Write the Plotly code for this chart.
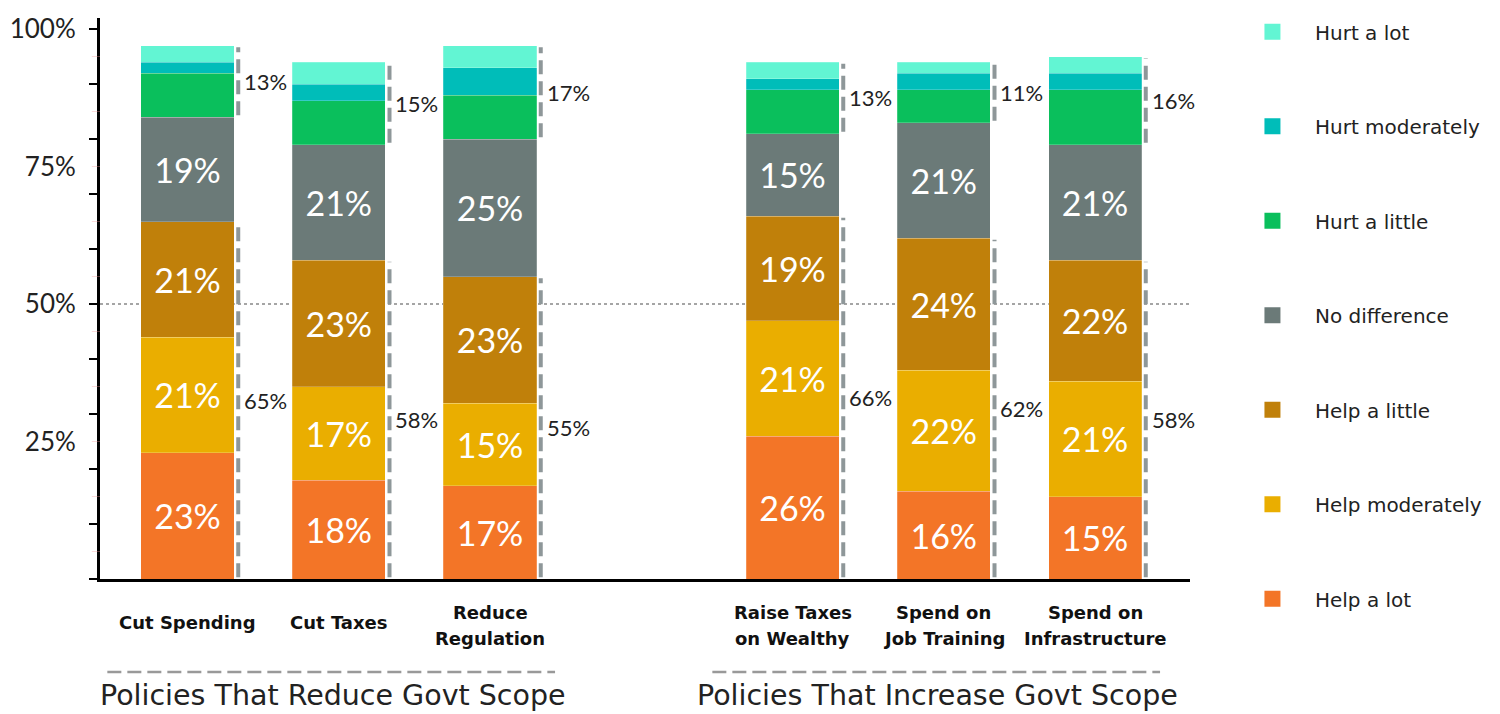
import plotly.graph_objects as go

# ---------------- data ----------------
group_names = ["Policies That Reduce Govt Scope", "Policies That Increase Govt Scope"]
group_members = [
    ["Cut Spending", "Cut Taxes", "Reduce<br>Regulation"],
    ["Raise Taxes<br>on Wealthy", "Spend on<br>Job Training", "Spend on<br>Infrastructure"],
]
series_names = ["Help a lot", "Help moderately", "Help a little", "No difference",
                "Hurt a little", "Hurt moderately", "Hurt a lot"]
help_lot = [23, 18, 17, 26, 16, 15]
help_moderately = [21, 17, 15, 21, 22, 21]
help_little = [21, 23, 23, 19, 24, 22]
no_difference = [19, 21, 25, 15, 21, 21]
hurt_little = [8, 8, 8, 8, 6, 10]
hurt_moderately = [2, 3, 5, 2, 3, 3]
hurt_lot = [3, 4, 4, 3, 2, 3]
y_tick_values = [25, 50, 75, 100]
y_tick_labels = ["25%", "50%", "75%", "100%"]

# ---------------- style ----------------
colors = ["#F37527", "#EAAE00", "#C0800A", "#6B7A78", "#0ABF5C", "#00BDB9", "#62F5D3"]
NUM_FONT = "Lato"
TXT_FONT = "DejaVu Sans"
bar_width = 0.615
W, H = 1492, 706          # page body has an 8px margin
ML, MR, MT, MB = 92, 310, 10, 135
plot_h = H - MT - MB

series = [help_lot, help_moderately, help_little, no_difference,
          hurt_little, hurt_moderately, hurt_lot]
categories = [c for g in group_members for c in g]
# positions: one empty slot between groups
positions = []
for gi, g in enumerate(group_members):
    for j, _ in enumerate(g):
        positions.append(len(positions) + gi)

fig = go.Figure()
for k, (name, vals) in enumerate(zip(series_names, series)):
    labelled = k < 4
    fig.add_trace(go.Bar(
        x=positions, y=vals, name=name, width=bar_width,
        marker=dict(color=colors[k], line=dict(width=0.6, color="rgba(255,255,255,0.35)")),
        text=[f"{v}%" for v in vals] if labelled else None,
        textposition="inside" if labelled else "none",
        insidetextanchor="middle",
        textfont=dict(family=NUM_FONT, size=34, color="white"),
        showlegend=False, hoverinfo="name+y",
    ))

# legend entries (top -> bottom: Hurt a lot ... Help a lot)
for k in reversed(range(len(series_names))):
    fig.add_trace(go.Scatter(
        x=[None], y=[None], mode="markers", name=series_names[k],
        marker=dict(symbol="square", size=16, color=colors[k]),
        legendgroup=series_names[k], showlegend=True,
    ))

# brackets and totals
helps = [a + b + c for a, b, c in zip(help_lot, help_moderately, help_little)]
hurts = [a + b + c for a, b, c in zip(hurt_little, hurt_moderately, hurt_lot)]
hurt_base = [h + n for h, n in zip(helps, no_difference)]
off = bar_width / 2 + 0.028
for p, hp, hu, hb in zip(positions, helps, hurts, hurt_base):
    for y0, y1 in [(0, hp), (hb, hb + hu)]:
        fig.add_trace(go.Scatter(
            x=[p + off, p + off], y=[y0 + 0.3, y1 - 0.3], mode="lines",
            line=dict(color="#8E9799", width=4, dash="14px,7px"),
            showlegend=False, hoverinfo="skip",
        ))
        fig.add_annotation(x=p + off + 0.025, y=(y0 + y1) / 2, text=f"{y1 - y0}%",
                           xanchor="left", yanchor="middle", showarrow=False,
                           font=dict(family=NUM_FONT, size=22, color="#222"))

# category labels (each line placed separately for looser line spacing)
line_gap = 26 / plot_h
for p, c in zip(positions, categories):
    lines = c.split("<br>")
    center = -0.0767 if len(lines) == 1 else -0.082
    for li, t in enumerate(lines):
        yy = center + (len(lines) - 1) / 2 * line_gap - li * line_gap
        fig.add_annotation(x=p, xref="x", y=yy, yref="paper", text=f"<b>{t}</b>",
                           showarrow=False, xanchor="center", yanchor="middle",
                           font=dict(family=TXT_FONT, size=18, color="#111"))

# group titles with dashed rules
idx = 0
for gname, g in zip(group_names, group_members):
    gp = positions[idx:idx + len(g)]
    idx += len(g)
    mid = (gp[0] + gp[-1]) / 2
    fig.add_shape(type="line", xref="x", yref="paper", x0=gp[0] - 0.53, x1=gp[-1] + 0.43,
                  y0=-0.1658, y1=-0.1658, line=dict(color="#999", width=2.5, dash="14px,6px"))
    fig.add_annotation(x=mid - 0.04, xref="x", y=-0.2068, yref="paper", text=gname,
                       showarrow=False, xanchor="center", yanchor="middle",
                       font=dict(family=TXT_FONT, size=28.5, color="#222"))

# 50% reference line
fig.add_shape(type="line", xref="paper", yref="y", x0=0, x1=1, y0=50, y1=50,
              line=dict(color="#888", width=1.5, dash="dot"), layer="below")
# faint minor ticks every 5%
for v in range(5, 100, 10):
    fig.add_shape(type="line", xref="paper", yref="y", x0=-0.0075, x1=0, y0=v, y1=v,
                  line=dict(color="rgba(240,150,150,0.35)", width=1))

fig.update_layout(
    width=W, height=H,
    margin=dict(l=ML, r=MR, t=MT, b=MB, autoexpand=False),
    plot_bgcolor="white", paper_bgcolor="white",
    barmode="stack",
    font=dict(family=TXT_FONT, color="#222"),
    xaxis=dict(range=[-0.5785, 6.628], showticklabels=False, showgrid=False, zeroline=False,
               showline=True, linecolor="black", linewidth=3, ticks="", automargin=False),
    yaxis=dict(range=[0, 102], tickvals=y_tick_values, ticktext=y_tick_labels,
               ticks="", showgrid=False, zeroline=False, showline=True, automargin=False,
               linecolor="black", linewidth=3, ticklabelstandoff=16,
               tickfont=dict(family=NUM_FONT, size=26, color="#222"),
               minor=dict(dtick=10, tick0=0, ticks="outside", ticklen=8, tickwidth=2,
                          tickcolor="black", showgrid=False)),
    legend=dict(xref="container", yref="container", x=0.819, xanchor="left",
                y=0.994, yanchor="top", tracegroupgap=65.5, maxheight=1,
                font=dict(family=TXT_FONT, size=20, color="#222"), itemwidth=75,
                traceorder="grouped", bgcolor="rgba(0,0,0,0)"),
    showlegend=True,
)

fig.write_html("out.html")
